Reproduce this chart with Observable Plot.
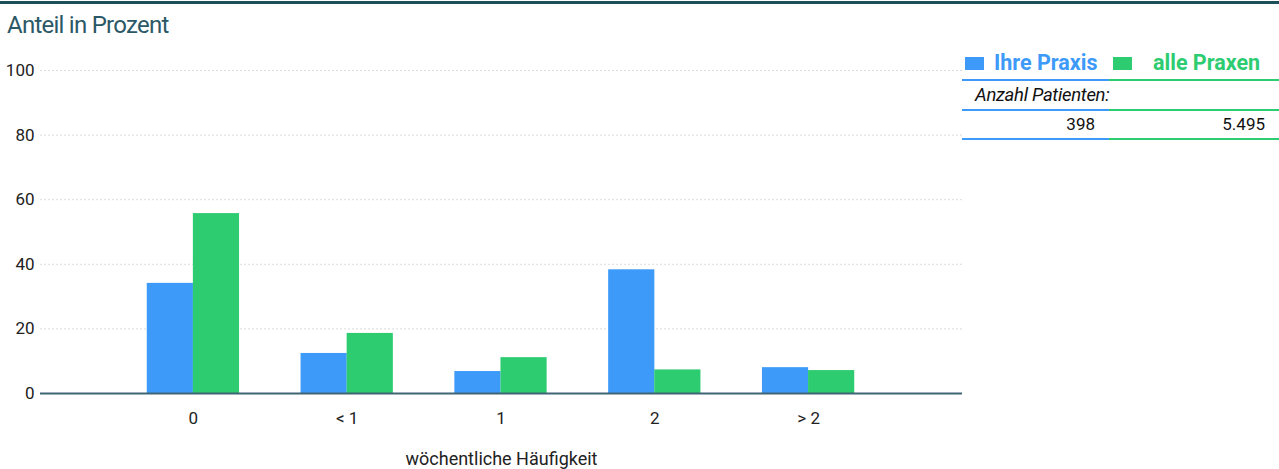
<!DOCTYPE html>
<html>
<head>
<meta charset="utf-8">
<script src="https://cdn.jsdelivr.net/npm/d3@7"></script>
<script src="https://cdn.jsdelivr.net/npm/@observablehq/plot@0.6"></script>
<style>
  html, body { margin: 0; padding: 0; background: #fff; }
  body { width: 1279px; height: 469px; position: relative; overflow: hidden; font-family: Roboto, "Noto Sans", sans-serif; }
  #topline { position: absolute; left: 0; top: 1px; width: 1279px; height: 3px; background: #1d4e5c; }
  #title { position: absolute; left: 7px; top: 11px; font-size: 24px; color: #2b5866; letter-spacing: -0.75px; }
  #chart { position: absolute; left: 0; top: 50px; }
  .abs { position: absolute; white-space: nowrap; }
</style>
</head>
<body>
<div id="topline"></div>
<div id="title">Anteil in Prozent</div>
<div id="chart"></div>
<div id="legend"></div>
<script>
// ---- data ----
const categories = ["0", "< 1", "1", "2", "> 2"];
const ihrePraxis = [34.1, 12.4, 6.8, 38.3, 8.0];
const allePraxen = [55.7, 18.6, 11.1, 7.3, 7.1];
const seriesNames = ["Ihre Praxis", "alle Praxen"];
const seriesColors = ["#3d9af9", "#2ecc71"];
const patientCounts = ["398", "5.495"];
const yTicks = [0, 20, 40, 60, 80, 100];
const xLabel = "wöchentliche Häufigkeit";
const countLabel = "Anzahl Patienten:";

const rows = [];
categories.forEach((c, i) => {
  rows.push({cat: c, series: seriesNames[0], value: ihrePraxis[i]});
  rows.push({cat: c, series: seriesNames[1], value: allePraxen[i]});
});

const chart = Plot.plot({
  width: 1279,
  height: 419,
  marginLeft: 40,
  marginRight: 317,
  marginTop: 20,
  marginBottom: 76,
  style: {fontFamily: "Roboto, sans-serif", fontSize: "17px", color: "#222", background: "transparent"},
  x: {domain: categories, paddingInner: 0.4, paddingOuter: 0.2, insetLeft: 76, insetRight: 77, round: false},
  y: {domain: [0, 100]},
  color: {domain: seriesNames, range: seriesColors},
  marks: [
    Plot.ruleY(yTicks.filter(d => d > 0), {stroke: "#dcdcdc", strokeDasharray: "2,2", strokeWidth: 1}),
    Plot.barY(rows.filter(d => d.series === seriesNames[0]), {x: "cat", y: "value", fill: "series", insetRight: 46.1}),
    Plot.barY(rows.filter(d => d.series === seriesNames[1]), {x: "cat", y: "value", fill: "series", insetLeft: 46.1}),
    Plot.ruleY([0], {stroke: "#3f6474", strokeWidth: 2}),
    Plot.axisY(yTicks, {tickSize: 0, tickPadding: 6, label: null, fill: "#222"}),
    Plot.axisX({tickSize: 0, tickPadding: 18, label: null, fill: "#222"}),
    Plot.text([xLabel], {frameAnchor: "bottom", dy: 71, fontSize: 18, fill: "#222"})
  ]
});
document.getElementById("chart").appendChild(chart);

// ---- legend table ----
const lg = document.getElementById("legend");
function add(html, style) {
  const d = document.createElement("div");
  d.className = "abs";
  Object.assign(d.style, style);
  d.innerHTML = html;
  lg.appendChild(d);
  return d;
}
const colLeft = [962, 1109];
const colRight = [1109, 1279];
const sqX = [965, 1113];
const nameX = [994, 1153];
seriesNames.forEach((n, i) => {
  add("", {left: sqX[i] + "px", top: "57px", width: "19px", height: "13px", background: seriesColors[i]});
  add(n, {left: nameX[i] + "px", top: "50px", fontSize: "21.5px", fontWeight: "bold", color: seriesColors[i], fontFamily: "Roboto, sans-serif"});
  [79, 109, 138].forEach(y => {
    add("", {left: colLeft[i] + "px", top: y + "px", width: (colRight[i] - colLeft[i]) + "px", height: "2px", background: seriesColors[i]});
  });
  add(patientCounts[i], {left: (i === 0 ? 1000 : 1150) + "px", width: (i === 0 ? 95 : 115) + "px", textAlign: "right", top: "114px", fontSize: "17px", color: "#111"});
});
add(countLabel, {left: "975px", top: "84px", fontSize: "18.5px", fontStyle: "italic", color: "#111", letterSpacing: "-0.3px"});
</script>
</body>
</html>
